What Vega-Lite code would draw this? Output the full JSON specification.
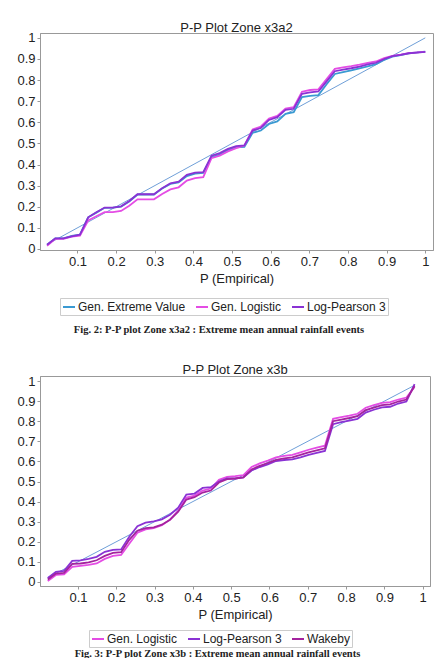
{
  "$schema": "https://vega.github.io/schema/vega-lite/v6.json",
  "padding": {"left": 16, "top": 21, "right": 5, "bottom": 0},
  "background": "white",
  "spacing": 28,
  "resolve": {"scale": {"color": "independent"}},
  "config": {
    "view": {"stroke": "#999", "strokeWidth": 1},
    "font": "Liberation Sans",
    "axis": {
      "grid": false,
      "domainColor": "#999",
      "tickColor": "#999",
      "tickSize": 3,
      "labelPadding": 2,
      "labelFont": "Liberation Sans",
      "labelFontSize": 13,
      "labelColor": "#222",
      "labelOverlap": false,
      "titleFont": "Liberation Sans",
      "titleFontSize": 13,
      "titleFontWeight": "normal",
      "titleColor": "#222",
      "titlePadding": 4
    },
    "legend": {
      "orient": "none",
      "direction": "horizontal",
      "columns": 3,
      "symbolType": "stroke",
      "symbolSize": 144,
      "symbolStrokeWidth": 2,
      "labelFont": "Liberation Sans",
      "labelFontSize": 12,
      "labelColor": "#222",
      "labelOffset": 2,
      "columnPadding": 6,
      "strokeColor": "#ccc",
      "padding": 2
    },
    "title": {
      "font": "Liberation Sans",
      "fontSize": 13,
      "fontWeight": "normal",
      "color": "#222"
    }
  },
  "vconcat": [
    {
      "title": {"text": "Fig. 2:   P-P plot  Zone  x3a2 : Extreme mean annual rainfall events", "orient": "bottom", "anchor": "middle", "font": "Liberation Serif", "fontSize": 10.5, "fontWeight": "bold", "offset": 9, "dx": -6},
      "vconcat": [
        {
          "width": 393,
          "height": 217,
          "title": {"text": "P-P Plot Zone x3a2", "offset": -3},
          "encoding": {
            "x": {"field": "p", "type": "quantitative", "scale": {"domain": [0.003, 1.02], "nice": false}, "axis": {"values": [0.1,0.2,0.3,0.4,0.5,0.6,0.7,0.8,0.9,1], "format": "~g", "labelOverlap": false, "title": "P (Empirical)"}},
            "y": {"field": "f", "type": "quantitative", "scale": {"domain": [-0.005, 1.023], "nice": false}, "axis": {"values": [0,0.1,0.2,0.3,0.4,0.5,0.6,0.7,0.8,0.9,1], "format": "~g", "labelOverlap": false, "title": null}}
          },
          "layer": [
            {
              "data": {"values": [{"p": 0.021, "f": 0.021}, {"p": 1, "f": 1}]},
              "mark": {"type": "line", "color": "#6f9fd8", "strokeWidth": 1},
              "encoding": {}
            },
            {
              "data": {"values": [
{"p":0.0213,"f":0.02,"d":"Gen. Extreme Value"},{"p":0.0426,"f":0.05,"d":"Gen. Extreme Value"},{"p":0.0638,"f":0.05,"d":"Gen. Extreme Value"},{"p":0.0851,"f":0.062,"d":"Gen. Extreme Value"},{"p":0.1064,"f":0.068,"d":"Gen. Extreme Value"},{"p":0.1277,"f":0.15,"d":"Gen. Extreme Value"},{"p":0.1489,"f":0.172,"d":"Gen. Extreme Value"},{"p":0.1702,"f":0.195,"d":"Gen. Extreme Value"},{"p":0.1915,"f":0.196,"d":"Gen. Extreme Value"},{"p":0.2128,"f":0.2,"d":"Gen. Extreme Value"},{"p":0.234,"f":0.225,"d":"Gen. Extreme Value"},{"p":0.2553,"f":0.258,"d":"Gen. Extreme Value"},{"p":0.2766,"f":0.258,"d":"Gen. Extreme Value"},{"p":0.2979,"f":0.258,"d":"Gen. Extreme Value"},{"p":0.3191,"f":0.286,"d":"Gen. Extreme Value"},{"p":0.3404,"f":0.308,"d":"Gen. Extreme Value"},{"p":0.3617,"f":0.315,"d":"Gen. Extreme Value"},{"p":0.383,"f":0.345,"d":"Gen. Extreme Value"},{"p":0.4043,"f":0.357,"d":"Gen. Extreme Value"},{"p":0.4255,"f":0.36,"d":"Gen. Extreme Value"},{"p":0.4468,"f":0.435,"d":"Gen. Extreme Value"},{"p":0.4681,"f":0.447,"d":"Gen. Extreme Value"},{"p":0.4894,"f":0.468,"d":"Gen. Extreme Value"},{"p":0.5106,"f":0.481,"d":"Gen. Extreme Value"},{"p":0.5319,"f":0.483,"d":"Gen. Extreme Value"},{"p":0.5532,"f":0.55,"d":"Gen. Extreme Value"},{"p":0.5745,"f":0.561,"d":"Gen. Extreme Value"},{"p":0.5957,"f":0.592,"d":"Gen. Extreme Value"},{"p":0.617,"f":0.604,"d":"Gen. Extreme Value"},{"p":0.6383,"f":0.64,"d":"Gen. Extreme Value"},{"p":0.6596,"f":0.648,"d":"Gen. Extreme Value"},{"p":0.6809,"f":0.719,"d":"Gen. Extreme Value"},{"p":0.7021,"f":0.725,"d":"Gen. Extreme Value"},{"p":0.7234,"f":0.729,"d":"Gen. Extreme Value"},{"p":0.7447,"f":0.78,"d":"Gen. Extreme Value"},{"p":0.766,"f":0.829,"d":"Gen. Extreme Value"},{"p":0.7872,"f":0.838,"d":"Gen. Extreme Value"},{"p":0.8085,"f":0.846,"d":"Gen. Extreme Value"},{"p":0.8298,"f":0.855,"d":"Gen. Extreme Value"},{"p":0.8511,"f":0.865,"d":"Gen. Extreme Value"},{"p":0.8723,"f":0.875,"d":"Gen. Extreme Value"},{"p":0.8936,"f":0.896,"d":"Gen. Extreme Value"},{"p":0.9149,"f":0.911,"d":"Gen. Extreme Value"},{"p":0.9362,"f":0.918,"d":"Gen. Extreme Value"},{"p":0.9574,"f":0.927,"d":"Gen. Extreme Value"},{"p":0.9787,"f":0.931,"d":"Gen. Extreme Value"},{"p":1.0,"f":0.935,"d":"Gen. Extreme Value"},
{"p":0.0213,"f":0.015,"d":"Gen. Logistic"},{"p":0.0426,"f":0.048,"d":"Gen. Logistic"},{"p":0.0638,"f":0.048,"d":"Gen. Logistic"},{"p":0.0851,"f":0.058,"d":"Gen. Logistic"},{"p":0.1064,"f":0.063,"d":"Gen. Logistic"},{"p":0.1277,"f":0.135,"d":"Gen. Logistic"},{"p":0.1489,"f":0.155,"d":"Gen. Logistic"},{"p":0.1702,"f":0.174,"d":"Gen. Logistic"},{"p":0.1915,"f":0.174,"d":"Gen. Logistic"},{"p":0.2128,"f":0.18,"d":"Gen. Logistic"},{"p":0.234,"f":0.205,"d":"Gen. Logistic"},{"p":0.2553,"f":0.235,"d":"Gen. Logistic"},{"p":0.2766,"f":0.235,"d":"Gen. Logistic"},{"p":0.2979,"f":0.235,"d":"Gen. Logistic"},{"p":0.3191,"f":0.26,"d":"Gen. Logistic"},{"p":0.3404,"f":0.282,"d":"Gen. Logistic"},{"p":0.3617,"f":0.292,"d":"Gen. Logistic"},{"p":0.383,"f":0.324,"d":"Gen. Logistic"},{"p":0.4043,"f":0.336,"d":"Gen. Logistic"},{"p":0.4255,"f":0.34,"d":"Gen. Logistic"},{"p":0.4468,"f":0.43,"d":"Gen. Logistic"},{"p":0.4681,"f":0.442,"d":"Gen. Logistic"},{"p":0.4894,"f":0.462,"d":"Gen. Logistic"},{"p":0.5106,"f":0.478,"d":"Gen. Logistic"},{"p":0.5319,"f":0.49,"d":"Gen. Logistic"},{"p":0.5532,"f":0.566,"d":"Gen. Logistic"},{"p":0.5745,"f":0.58,"d":"Gen. Logistic"},{"p":0.5957,"f":0.618,"d":"Gen. Logistic"},{"p":0.617,"f":0.63,"d":"Gen. Logistic"},{"p":0.6383,"f":0.665,"d":"Gen. Logistic"},{"p":0.6596,"f":0.672,"d":"Gen. Logistic"},{"p":0.6809,"f":0.745,"d":"Gen. Logistic"},{"p":0.7021,"f":0.753,"d":"Gen. Logistic"},{"p":0.7234,"f":0.756,"d":"Gen. Logistic"},{"p":0.7447,"f":0.805,"d":"Gen. Logistic"},{"p":0.766,"f":0.853,"d":"Gen. Logistic"},{"p":0.7872,"f":0.86,"d":"Gen. Logistic"},{"p":0.8085,"f":0.866,"d":"Gen. Logistic"},{"p":0.8298,"f":0.873,"d":"Gen. Logistic"},{"p":0.8511,"f":0.881,"d":"Gen. Logistic"},{"p":0.8723,"f":0.888,"d":"Gen. Logistic"},{"p":0.8936,"f":0.904,"d":"Gen. Logistic"},{"p":0.9149,"f":0.915,"d":"Gen. Logistic"},{"p":0.9362,"f":0.921,"d":"Gen. Logistic"},{"p":0.9574,"f":0.928,"d":"Gen. Logistic"},{"p":0.9787,"f":0.931,"d":"Gen. Logistic"},{"p":1.0,"f":0.934,"d":"Gen. Logistic"},
{"p":0.0213,"f":0.02,"d":"Log-Pearson 3"},{"p":0.0426,"f":0.05,"d":"Log-Pearson 3"},{"p":0.0638,"f":0.05,"d":"Log-Pearson 3"},{"p":0.0851,"f":0.06,"d":"Log-Pearson 3"},{"p":0.1064,"f":0.068,"d":"Log-Pearson 3"},{"p":0.1277,"f":0.15,"d":"Log-Pearson 3"},{"p":0.1489,"f":0.174,"d":"Log-Pearson 3"},{"p":0.1702,"f":0.196,"d":"Log-Pearson 3"},{"p":0.1915,"f":0.196,"d":"Log-Pearson 3"},{"p":0.2128,"f":0.202,"d":"Log-Pearson 3"},{"p":0.234,"f":0.227,"d":"Log-Pearson 3"},{"p":0.2553,"f":0.259,"d":"Log-Pearson 3"},{"p":0.2766,"f":0.259,"d":"Log-Pearson 3"},{"p":0.2979,"f":0.259,"d":"Log-Pearson 3"},{"p":0.3191,"f":0.288,"d":"Log-Pearson 3"},{"p":0.3404,"f":0.311,"d":"Log-Pearson 3"},{"p":0.3617,"f":0.319,"d":"Log-Pearson 3"},{"p":0.383,"f":0.351,"d":"Log-Pearson 3"},{"p":0.4043,"f":0.362,"d":"Log-Pearson 3"},{"p":0.4255,"f":0.364,"d":"Log-Pearson 3"},{"p":0.4468,"f":0.442,"d":"Log-Pearson 3"},{"p":0.4681,"f":0.454,"d":"Log-Pearson 3"},{"p":0.4894,"f":0.474,"d":"Log-Pearson 3"},{"p":0.5106,"f":0.487,"d":"Log-Pearson 3"},{"p":0.5319,"f":0.49,"d":"Log-Pearson 3"},{"p":0.5532,"f":0.561,"d":"Log-Pearson 3"},{"p":0.5745,"f":0.573,"d":"Log-Pearson 3"},{"p":0.5957,"f":0.611,"d":"Log-Pearson 3"},{"p":0.617,"f":0.624,"d":"Log-Pearson 3"},{"p":0.6383,"f":0.659,"d":"Log-Pearson 3"},{"p":0.6596,"f":0.664,"d":"Log-Pearson 3"},{"p":0.6809,"f":0.735,"d":"Log-Pearson 3"},{"p":0.7021,"f":0.742,"d":"Log-Pearson 3"},{"p":0.7234,"f":0.746,"d":"Log-Pearson 3"},{"p":0.7447,"f":0.794,"d":"Log-Pearson 3"},{"p":0.766,"f":0.842,"d":"Log-Pearson 3"},{"p":0.7872,"f":0.849,"d":"Log-Pearson 3"},{"p":0.8085,"f":0.856,"d":"Log-Pearson 3"},{"p":0.8298,"f":0.864,"d":"Log-Pearson 3"},{"p":0.8511,"f":0.874,"d":"Log-Pearson 3"},{"p":0.8723,"f":0.882,"d":"Log-Pearson 3"},{"p":0.8936,"f":0.9,"d":"Log-Pearson 3"},{"p":0.9149,"f":0.913,"d":"Log-Pearson 3"},{"p":0.9362,"f":0.919,"d":"Log-Pearson 3"},{"p":0.9574,"f":0.927,"d":"Log-Pearson 3"},{"p":0.9787,"f":0.93,"d":"Log-Pearson 3"},{"p":1.0,"f":0.934,"d":"Log-Pearson 3"}
              ]},
              "mark": {"type": "line", "strokeWidth": 1.8},
              "encoding": {
                "color": {
                  "field": "d", "type": "nominal",
                  "scale": {"domain": ["Gen. Extreme Value", "Gen. Logistic", "Log-Pearson 3"], "range": ["#3a9ad2", "#e44ce4", "#8a32d4"]},
                  "legend": {"title": null, "legendX": 20, "legendY": 265}
                }
              }
            }
          ]
        }
      ]
    },
    {
      "title": {"text": "Fig. 3: P-P plot  Zone  x3b : Extreme mean annual rainfall events", "orient": "bottom", "anchor": "middle", "font": "Liberation Serif", "fontSize": 10.5, "fontWeight": "bold", "offset": 1, "dx": -6},
      "vconcat": [
        {
          "width": 390,
          "height": 210,
          "title": {"text": "P-P Plot Zone x3b", "offset": -2},
          "encoding": {
            "x": {"field": "p", "type": "quantitative", "scale": {"domain": [0.001, 1.019], "nice": false}, "axis": {"values": [0.1,0.2,0.3,0.4,0.5,0.6,0.7,0.8,0.9,1], "format": "~g", "labelOverlap": false, "title": "P (Empirical)"}},
            "y": {"field": "f", "type": "quantitative", "scale": {"domain": [-0.02, 1.025], "nice": false}, "axis": {"values": [0,0.1,0.2,0.3,0.4,0.5,0.6,0.7,0.8,0.9,1], "format": "~g", "labelOverlap": false, "title": null}}
          },
          "layer": [
            {
              "data": {"values": [{"p": 0.021, "f": 0.021}, {"p": 0.979, "f": 0.979}]},
              "mark": {"type": "line", "color": "#6f9fd8", "strokeWidth": 1},
              "encoding": {}
            },
            {
              "data": {"values": [
{"p":0.0213,"f":0.005,"d":"Gen. Logistic"},{"p":0.0426,"f":0.035,"d":"Gen. Logistic"},{"p":0.0638,"f":0.038,"d":"Gen. Logistic"},{"p":0.0851,"f":0.075,"d":"Gen. Logistic"},{"p":0.1064,"f":0.08,"d":"Gen. Logistic"},{"p":0.1277,"f":0.085,"d":"Gen. Logistic"},{"p":0.1489,"f":0.092,"d":"Gen. Logistic"},{"p":0.1702,"f":0.115,"d":"Gen. Logistic"},{"p":0.1915,"f":0.13,"d":"Gen. Logistic"},{"p":0.2128,"f":0.135,"d":"Gen. Logistic"},{"p":0.234,"f":0.19,"d":"Gen. Logistic"},{"p":0.2553,"f":0.245,"d":"Gen. Logistic"},{"p":0.2766,"f":0.262,"d":"Gen. Logistic"},{"p":0.2979,"f":0.268,"d":"Gen. Logistic"},{"p":0.3191,"f":0.282,"d":"Gen. Logistic"},{"p":0.3404,"f":0.31,"d":"Gen. Logistic"},{"p":0.3617,"f":0.355,"d":"Gen. Logistic"},{"p":0.383,"f":0.42,"d":"Gen. Logistic"},{"p":0.4043,"f":0.43,"d":"Gen. Logistic"},{"p":0.4255,"f":0.455,"d":"Gen. Logistic"},{"p":0.4468,"f":0.465,"d":"Gen. Logistic"},{"p":0.4681,"f":0.508,"d":"Gen. Logistic"},{"p":0.4894,"f":0.523,"d":"Gen. Logistic"},{"p":0.5106,"f":0.527,"d":"Gen. Logistic"},{"p":0.5319,"f":0.532,"d":"Gen. Logistic"},{"p":0.5532,"f":0.572,"d":"Gen. Logistic"},{"p":0.5745,"f":0.59,"d":"Gen. Logistic"},{"p":0.5957,"f":0.604,"d":"Gen. Logistic"},{"p":0.617,"f":0.62,"d":"Gen. Logistic"},{"p":0.6383,"f":0.627,"d":"Gen. Logistic"},{"p":0.6596,"f":0.632,"d":"Gen. Logistic"},{"p":0.6809,"f":0.645,"d":"Gen. Logistic"},{"p":0.7021,"f":0.658,"d":"Gen. Logistic"},{"p":0.7234,"f":0.668,"d":"Gen. Logistic"},{"p":0.7447,"f":0.678,"d":"Gen. Logistic"},{"p":0.766,"f":0.812,"d":"Gen. Logistic"},{"p":0.7872,"f":0.82,"d":"Gen. Logistic"},{"p":0.8085,"f":0.828,"d":"Gen. Logistic"},{"p":0.8298,"f":0.837,"d":"Gen. Logistic"},{"p":0.8511,"f":0.867,"d":"Gen. Logistic"},{"p":0.8723,"f":0.88,"d":"Gen. Logistic"},{"p":0.8936,"f":0.891,"d":"Gen. Logistic"},{"p":0.9149,"f":0.895,"d":"Gen. Logistic"},{"p":0.9362,"f":0.908,"d":"Gen. Logistic"},{"p":0.9574,"f":0.918,"d":"Gen. Logistic"},{"p":0.9787,"f":0.97,"d":"Gen. Logistic"},
{"p":0.0213,"f":0.02,"d":"Log-Pearson 3"},{"p":0.0426,"f":0.05,"d":"Log-Pearson 3"},{"p":0.0638,"f":0.055,"d":"Log-Pearson 3"},{"p":0.0851,"f":0.105,"d":"Log-Pearson 3"},{"p":0.1064,"f":0.107,"d":"Log-Pearson 3"},{"p":0.1277,"f":0.115,"d":"Log-Pearson 3"},{"p":0.1489,"f":0.125,"d":"Log-Pearson 3"},{"p":0.1702,"f":0.15,"d":"Log-Pearson 3"},{"p":0.1915,"f":0.16,"d":"Log-Pearson 3"},{"p":0.2128,"f":0.162,"d":"Log-Pearson 3"},{"p":0.234,"f":0.225,"d":"Log-Pearson 3"},{"p":0.2553,"f":0.278,"d":"Log-Pearson 3"},{"p":0.2766,"f":0.295,"d":"Log-Pearson 3"},{"p":0.2979,"f":0.302,"d":"Log-Pearson 3"},{"p":0.3191,"f":0.312,"d":"Log-Pearson 3"},{"p":0.3404,"f":0.335,"d":"Log-Pearson 3"},{"p":0.3617,"f":0.37,"d":"Log-Pearson 3"},{"p":0.383,"f":0.435,"d":"Log-Pearson 3"},{"p":0.4043,"f":0.44,"d":"Log-Pearson 3"},{"p":0.4255,"f":0.468,"d":"Log-Pearson 3"},{"p":0.4468,"f":0.472,"d":"Log-Pearson 3"},{"p":0.4681,"f":0.5,"d":"Log-Pearson 3"},{"p":0.4894,"f":0.515,"d":"Log-Pearson 3"},{"p":0.5106,"f":0.515,"d":"Log-Pearson 3"},{"p":0.5319,"f":0.52,"d":"Log-Pearson 3"},{"p":0.5532,"f":0.555,"d":"Log-Pearson 3"},{"p":0.5745,"f":0.572,"d":"Log-Pearson 3"},{"p":0.5957,"f":0.585,"d":"Log-Pearson 3"},{"p":0.617,"f":0.602,"d":"Log-Pearson 3"},{"p":0.6383,"f":0.607,"d":"Log-Pearson 3"},{"p":0.6596,"f":0.61,"d":"Log-Pearson 3"},{"p":0.6809,"f":0.62,"d":"Log-Pearson 3"},{"p":0.7021,"f":0.632,"d":"Log-Pearson 3"},{"p":0.7234,"f":0.642,"d":"Log-Pearson 3"},{"p":0.7447,"f":0.652,"d":"Log-Pearson 3"},{"p":0.766,"f":0.785,"d":"Log-Pearson 3"},{"p":0.7872,"f":0.795,"d":"Log-Pearson 3"},{"p":0.8085,"f":0.803,"d":"Log-Pearson 3"},{"p":0.8298,"f":0.812,"d":"Log-Pearson 3"},{"p":0.8511,"f":0.843,"d":"Log-Pearson 3"},{"p":0.8723,"f":0.857,"d":"Log-Pearson 3"},{"p":0.8936,"f":0.869,"d":"Log-Pearson 3"},{"p":0.9149,"f":0.872,"d":"Log-Pearson 3"},{"p":0.9362,"f":0.888,"d":"Log-Pearson 3"},{"p":0.9574,"f":0.898,"d":"Log-Pearson 3"},{"p":0.9787,"f":0.985,"d":"Log-Pearson 3"},
{"p":0.0213,"f":0.012,"d":"Wakeby"},{"p":0.0426,"f":0.042,"d":"Wakeby"},{"p":0.0638,"f":0.045,"d":"Wakeby"},{"p":0.0851,"f":0.09,"d":"Wakeby"},{"p":0.1064,"f":0.092,"d":"Wakeby"},{"p":0.1277,"f":0.098,"d":"Wakeby"},{"p":0.1489,"f":0.108,"d":"Wakeby"},{"p":0.1702,"f":0.13,"d":"Wakeby"},{"p":0.1915,"f":0.145,"d":"Wakeby"},{"p":0.2128,"f":0.148,"d":"Wakeby"},{"p":0.234,"f":0.21,"d":"Wakeby"},{"p":0.2553,"f":0.255,"d":"Wakeby"},{"p":0.2766,"f":0.268,"d":"Wakeby"},{"p":0.2979,"f":0.272,"d":"Wakeby"},{"p":0.3191,"f":0.285,"d":"Wakeby"},{"p":0.3404,"f":0.31,"d":"Wakeby"},{"p":0.3617,"f":0.35,"d":"Wakeby"},{"p":0.383,"f":0.41,"d":"Wakeby"},{"p":0.4043,"f":0.422,"d":"Wakeby"},{"p":0.4255,"f":0.445,"d":"Wakeby"},{"p":0.4468,"f":0.455,"d":"Wakeby"},{"p":0.4681,"f":0.495,"d":"Wakeby"},{"p":0.4894,"f":0.512,"d":"Wakeby"},{"p":0.5106,"f":0.515,"d":"Wakeby"},{"p":0.5319,"f":0.52,"d":"Wakeby"},{"p":0.5532,"f":0.56,"d":"Wakeby"},{"p":0.5745,"f":0.578,"d":"Wakeby"},{"p":0.5957,"f":0.592,"d":"Wakeby"},{"p":0.617,"f":0.608,"d":"Wakeby"},{"p":0.6383,"f":0.615,"d":"Wakeby"},{"p":0.6596,"f":0.62,"d":"Wakeby"},{"p":0.6809,"f":0.632,"d":"Wakeby"},{"p":0.7021,"f":0.645,"d":"Wakeby"},{"p":0.7234,"f":0.655,"d":"Wakeby"},{"p":0.7447,"f":0.665,"d":"Wakeby"},{"p":0.766,"f":0.8,"d":"Wakeby"},{"p":0.7872,"f":0.808,"d":"Wakeby"},{"p":0.8085,"f":0.816,"d":"Wakeby"},{"p":0.8298,"f":0.825,"d":"Wakeby"},{"p":0.8511,"f":0.855,"d":"Wakeby"},{"p":0.8723,"f":0.868,"d":"Wakeby"},{"p":0.8936,"f":0.88,"d":"Wakeby"},{"p":0.9149,"f":0.884,"d":"Wakeby"},{"p":0.9362,"f":0.898,"d":"Wakeby"},{"p":0.9574,"f":0.908,"d":"Wakeby"},{"p":0.9787,"f":0.975,"d":"Wakeby"}
              ]},
              "mark": {"type": "line", "strokeWidth": 1.8},
              "encoding": {
                "color": {
                  "field": "d", "type": "nominal",
                  "scale": {"domain": ["Gen. Logistic", "Log-Pearson 3", "Wakeby"], "range": ["#e44ce4", "#8a32d4", "#a4239e"]},
                  "legend": {"title": null, "legendX": 49, "legendY": 254}
                }
              }
            }
          ]
        }
      ]
    }
  ]
}
